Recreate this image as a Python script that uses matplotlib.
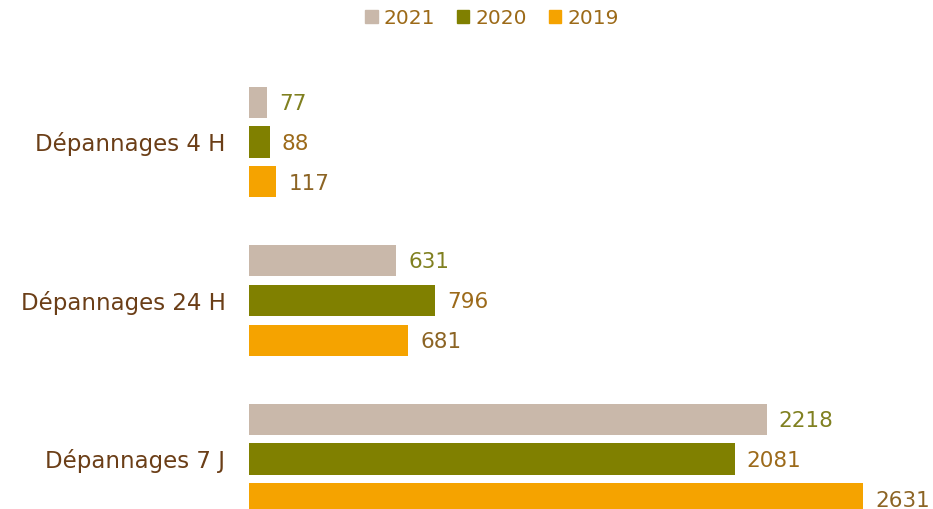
import matplotlib
matplotlib.use("Agg")
import matplotlib.pyplot as plt
from matplotlib.patches import Patch

categories = ["Dépannages 4 H", "Dépannages 24 H", "Dépannages 7 J"]
series_names = ["2021", "2020", "2019"]
values_2021 = [77, 631, 2218]
values_2020 = [88, 796, 2081]
values_2019 = [117, 681, 2631]

bar_colors = ["#C9B8AA", "#808000", "#F5A300"]
label_colors = ["#808020", "#9C6A1A", "#8C6424"]
cat_color = "#6B3E17"
legend_text_color = "#9C6A18"

plt.rcParams['font.family'] = ['DejaVu Sans']

fig = plt.figure(figsize=(9.33, 5.09), dpi=100)
ax = fig.add_axes([249/933, 0, 1 - 249/933, 1 - 40/509])

all_vals = [values_2021, values_2020, values_2019]
offsets = [-0.252, 0.0, 0.252]
h = 0.196
for vals, off, col, lcol in zip(all_vals, offsets, bar_colors, label_colors):
    ys = [i + off for i in range(len(categories))]
    ax.barh(ys, vals, height=h, color=col)
    for y, v in zip(ys, vals):
        ax.text(v + 52, y + 0.01, str(v), va='center', ha='left', fontsize=15.5, color=lcol)

ax.set_xlim(0, 2931)
ax.set_ylim(2.3155, -0.6435)
ax.set_yticks(range(len(categories)))
ax.set_yticklabels(categories, fontsize=16.5, color=cat_color)
ax.tick_params(axis='y', length=0, pad=17)
ax.set_xticks([])
for s in ax.spines.values():
    s.set_visible(False)

handles = [Patch(color=c) for c in bar_colors]
leg = fig.legend(handles, series_names, loc='upper center', bbox_to_anchor=(492/933, 1.005),
                 ncol=3, frameon=False, fontsize=14.5, handlelength=0.6, handleheight=0.6,
                 handletextpad=0.3, columnspacing=1.1, borderaxespad=0.15)
for t in leg.get_texts():
    t.set_color(legend_text_color)

fig.savefig("out.png", dpi=100)
